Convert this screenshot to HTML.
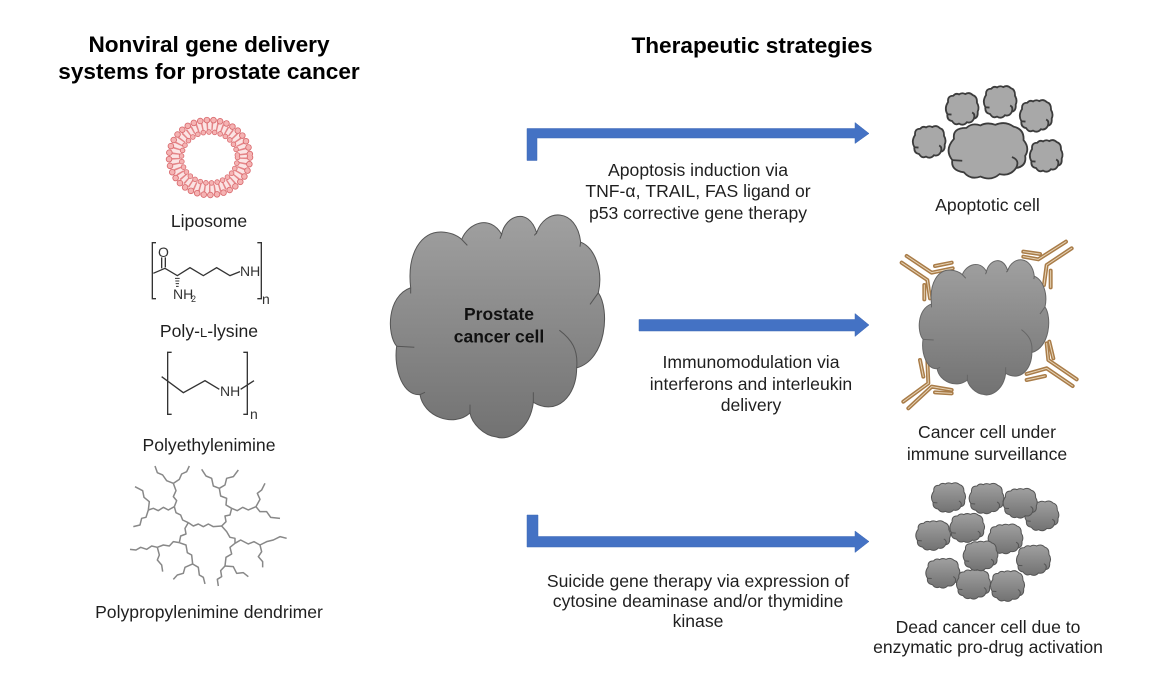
<!DOCTYPE html>
<html><head><meta charset="utf-8"><style>
html,body{margin:0;padding:0;background:#fff}
svg{display:block}
text{font-family:"Liberation Sans",Arial,sans-serif;fill:#1f1f1f}
.t{font-size:22.600px;font-weight:bold;text-anchor:middle;fill:#000}
.l{font-size:17.600px;text-anchor:middle}
.s{font-size:14px;fill:#333}
</style></head><body>
<svg width="1169" height="677" viewBox="0 0 1169 677" xmlns="http://www.w3.org/2000/svg">
<defs>
<linearGradient id="g" x1="0" y1="0" x2="0" y2="1"><stop offset="0" stop-color="#a0a0a0"/><stop offset="1" stop-color="#727272"/></linearGradient>
<symbol id="cloud" viewBox="30 38 645 677" preserveAspectRatio="none" overflow="visible">
<path vector-effect="non-scaling-stroke" d="M92 265 C80 160 125 95 185 98 C205 99 228 105 245 120 C265 70 330 45 365 105 C375 50 445 20 470 100 C495 25 590 25 602 128 C645 145 670 215 655 280 C690 330 680 480 590 505 C590 590 530 650 460 608 C450 690 385 725 350 712 C310 708 275 670 270 640 C220 685 130 650 120 585 C70 590 40 510 50 440 C20 405 20 290 92 265 Z"/>
<path vector-effect="non-scaling-stroke" fill="none" d="M245 120 L262 138 M365 105 L360 118 M470 100 L463 108 M602 128 L600 142 M655 280 L630 315 M590 505 C595 450 575 420 538 392 M460 608 L460 578 M270 640 L270 615 M120 585 L135 578 M50 440 L103 443 M92 265 L92 282"/>
</symbol>
<symbol id="blob" viewBox="4 4 93 92" preserveAspectRatio="none" overflow="visible">
<path vector-effect="non-scaling-stroke" d="M10 30 Q8 12 25 12 Q32 3 42 8 Q50 2 60 7 Q72 0 82 10 Q95 14 94 32 Q102 45 96 58 Q98 75 85 78 Q78 92 65 88 Q55 100 42 92 Q30 98 22 85 Q6 82 8 65 Q-2 48 10 30Z"/>
<path vector-effect="non-scaling-stroke" fill="none" d="M85 78 Q90 65 80 60 M8 65 L20 66"/>
</symbol>
</defs>

<text class="t" x="209" y="52">Nonviral gene delivery</text>
<text class="t" x="209" y="79">systems for prostate cancer</text>
<text class="t" x="752" y="53">Therapeutic strategies</text>

<!-- liposome -->
<ellipse cx="209.500" cy="157.500" rx="34" ry="32" fill="none" stroke="#fbe3e3" stroke-width="14"/>
<ellipse cx="209.500" cy="157.500" rx="33.500" ry="31.500" fill="none" stroke="#e58487" stroke-width="8" stroke-dasharray="1.500 3.500"/>
<g fill="none" stroke-linecap="round">
<ellipse cx="209.500" cy="157.500" rx="40.500" ry="37.500" stroke="#d96a6e" stroke-width="6.500" stroke-dasharray="0 6.700"/>
<ellipse cx="209.500" cy="157.500" rx="40.500" ry="37.500" stroke="#f5b3b3" stroke-width="4.800" stroke-dasharray="0 6.700"/>
<ellipse cx="209.500" cy="157.500" rx="28" ry="25.500" stroke="#d96a6e" stroke-width="5.500" stroke-dasharray="0 5.700"/>
<ellipse cx="209.500" cy="157.500" rx="28" ry="25.500" stroke="#f5b3b3" stroke-width="3.900" stroke-dasharray="0 5.700"/>
</g>
<text class="l" x="209" y="227">Liposome</text>

<!-- poly-L-lysine -->
<g transform="translate(120,110) scale(.3333)" fill="none" stroke="#333" stroke-width="4">
<path d="M108 398H97V566H108M412 398H424V566H412"/>
<path d="M100 490L135 475L172 497L210 473L250 497L290 473L330 497L360 485M125 442V475M136 442V472"/>
<path d="M165 505H179M166 513H178M167 521H177M168 529H176" stroke-width="3"/>
</g>
<text class="s" x="158" y="257">O</text>
<text class="s" x="240" y="276">NH</text>
<text class="s" x="173" y="299">NH</text>
<text class="s" x="191" y="302" style="font-size:9px">2</text>
<text class="s" x="262" y="304">n</text>
<text class="l" x="209" y="337">Poly-<tspan style="font-size:13px">L</tspan>-lysine</text>

<!-- PEI -->
<g transform="translate(110,340) scale(.3333)" fill="none" stroke="#333" stroke-width="4">
<path d="M185 37H173V223H185M400 37H412V223H400"/>
<path d="M155 110L220 158L285 122L328 148M392 148L432 122"/>
</g>
<text class="s" x="220" y="396">NH</text>
<text class="s" x="250" y="419">n</text>
<text class="l" x="209" y="451">Polyethylenimine</text>

<!-- dendrimer -->
<g transform="translate(120,460) scale(.3333)" fill="none" stroke="#888" stroke-width="4.500" stroke-linejoin="round">
<polyline points="205,188 220,198 235,192 250,200 265,192 280,200 305,198"/>
<polyline points="205,188 188,180 182,165 168,158 163,140"/>
<polyline points="163,140 170,122 160,110 168,92 160,70"/>
<polyline points="160,70 140,62 128,45 112,38 105,18"/>
<polyline points="160,70 178,58 185,42 200,35 208,18"/>
<polyline points="163,140 145,150 130,142 115,152 100,145 85,150"/>
<polyline points="85,150 88,125 72,112 68,92 45,80"/>
<polyline points="85,150 78,172 65,175 60,195 40,200"/>
<polyline points="205,188 195,205 198,222 182,228 178,248"/>
<polyline points="178,248 198,255 202,278 215,285 218,312"/>
<polyline points="218,312 195,322 190,340 172,345 160,358"/>
<polyline points="218,312 235,322 238,345 250,352 255,372"/>
<polyline points="178,248 160,245 148,258 130,255 112,262"/>
<polyline points="112,262 95,258 80,268 62,262 48,270 30,268"/>
<polyline points="112,262 118,285 112,300 125,315 128,335"/>
<polyline points="305,198 318,185 315,168 330,165 335,145"/>
<polyline points="335,145 318,135 320,115 302,108 298,85"/>
<polyline points="298,85 280,78 275,55 258,48 245,28"/>
<polyline points="298,85 315,75 320,55 340,50 355,30"/>
<polyline points="335,145 352,152 368,142 385,150 408,140"/>
<polyline points="408,140 420,118 412,100 425,90 435,70"/>
<polyline points="408,140 420,155 440,155 452,172 480,175"/>
<polyline points="305,198 320,215 330,232 345,235 345,250"/>
<polyline points="345,250 330,262 335,282 318,292 315,318"/>
<polyline points="315,318 302,332 305,350 292,358 295,378"/>
<polyline points="315,318 340,320 350,340 370,338 385,350"/>
<polyline points="345,250 362,240 385,252 402,245 420,255"/>
<polyline points="420,255 440,245 460,240 480,230 500,235"/>
<polyline points="420,255 425,275 415,290 428,305 428,322"/>
</g>
<text class="l" x="209" y="618">Polypropylenimine dendrimer</text>

<!-- main cell -->
<use href="#cloud" x="390" y="212" width="215" height="226" fill="url(#g)" stroke="#555" stroke-width="1"/>
<text x="499" y="320" text-anchor="middle" style="font-size:17.500px;font-weight:bold;fill:#111">Prostate</text>
<text x="499" y="342.500" text-anchor="middle" style="font-size:17.500px;font-weight:bold;fill:#111">cancer cell</text>

<!-- arrows -->
<g fill="#4472c4" stroke="#3f69b5" stroke-width=".5">
<path d="M527 160.500V128.500H855V122.500L869 133.500L855 143.500V138H537V160.500Z"/>
<path d="M639 319.500H855V313.500L869 325L855 336.500V331H639Z"/>
<path d="M527 515V547H855V552.500L869 541.500L855 531V536.500H538V515Z"/>
</g>

<!-- strategy labels -->
<text class="l" x="698" y="176">Apoptosis induction via</text>
<text class="l" x="698" y="197">TNF-α, TRAIL, FAS ligand or</text>
<text class="l" x="698" y="219">p53 corrective gene therapy</text>
<text class="l" x="751" y="368">Immunomodulation via</text>
<text class="l" x="751" y="390">interferons and interleukin</text>
<text class="l" x="751" y="411">delivery</text>
<text class="l" x="698" y="587">Suicide gene therapy via expression of</text>
<text class="l" x="698" y="607">cytosine deaminase and/or thymidine</text>
<text class="l" x="698" y="627">kinase</text>

<!-- apoptotic -->
<g fill="#a8a8a8" stroke="#3c3c3c" stroke-width="1.800">
<use href="#blob" x="949" y="123" width="77" height="56"/>
<use href="#blob" x="913" y="126" width="32" height="32"/>
<use href="#blob" x="946" y="93" width="32" height="32"/>
<use href="#blob" x="984" y="86" width="32" height="32"/>
<use href="#blob" x="1020" y="100" width="32" height="32"/>
<use href="#blob" x="1030" y="140" width="32" height="32"/>
</g>
<text class="l" x="987.500" y="211">Apoptotic cell</text>

<!-- immune cell -->
<g transform="translate(890,230) scale(.3333)">
<g stroke="#a97c48" stroke-width="12" fill="none" stroke-linecap="round" stroke-linejoin="round">
<path d="M50 78L125 128L188 115M35 98L112 150L120 205M135 108L185 98M103 165V208M528 35L445 88L400 80M545 55L470 105L462 165M400 65L450 72M482 122V172M560 448L475 390L470 340M548 468L470 415L410 432M478 335L490 385M410 450L465 438M40 515L115 460L112 390M55 535L125 470L185 480M90 390L100 440M135 487L185 490"/>
</g>
<g stroke="#e6d3b6" stroke-width="3" fill="none" stroke-linecap="round" stroke-linejoin="round">
<path d="M50 78L125 128L188 115M35 98L112 150L120 205M135 108L185 98M103 165V208M528 35L445 88L400 80M545 55L470 105L462 165M400 65L450 72M482 122V172M560 448L475 390L470 340M548 468L470 415L410 432M478 335L490 385M410 450L465 438M40 515L115 460L112 390M55 535L125 470L185 480M90 390L100 440M135 487L185 490"/>
</g>
</g>
<use href="#cloud" x="919" y="258" width="130" height="137" fill="url(#g)" stroke="#666" stroke-width="1"/>
<text class="l" x="987" y="438">Cancer cell under</text>
<text class="l" x="987" y="460">immune surveillance</text>

<!-- dead cells -->
<g transform="translate(900,470) scale(.3333)" fill="url(#g)" stroke="#555" stroke-width="1">
<use href="#blob" x="375" y="93" width="100" height="90"/>
<use href="#blob" x="310" y="55" width="100" height="90"/>
<use href="#blob" x="95" y="38" width="100" height="90"/>
<use href="#blob" x="208" y="40" width="102" height="92"/>
<use href="#blob" x="48" y="152" width="102" height="90"/>
<use href="#blob" x="150" y="130" width="102" height="88"/>
<use href="#blob" x="265" y="162" width="102" height="90"/>
<use href="#blob" x="350" y="225" width="100" height="92"/>
<use href="#blob" x="78" y="265" width="100" height="90"/>
<use href="#blob" x="170" y="298" width="100" height="90"/>
<use href="#blob" x="190" y="213" width="102" height="90"/>
<use href="#blob" x="272" y="302" width="100" height="93"/>
</g>
<text class="l" x="988" y="633">Dead cancer cell due to</text>
<text class="l" x="988" y="653">enzymatic pro-drug activation</text>
</svg>
</body></html>
